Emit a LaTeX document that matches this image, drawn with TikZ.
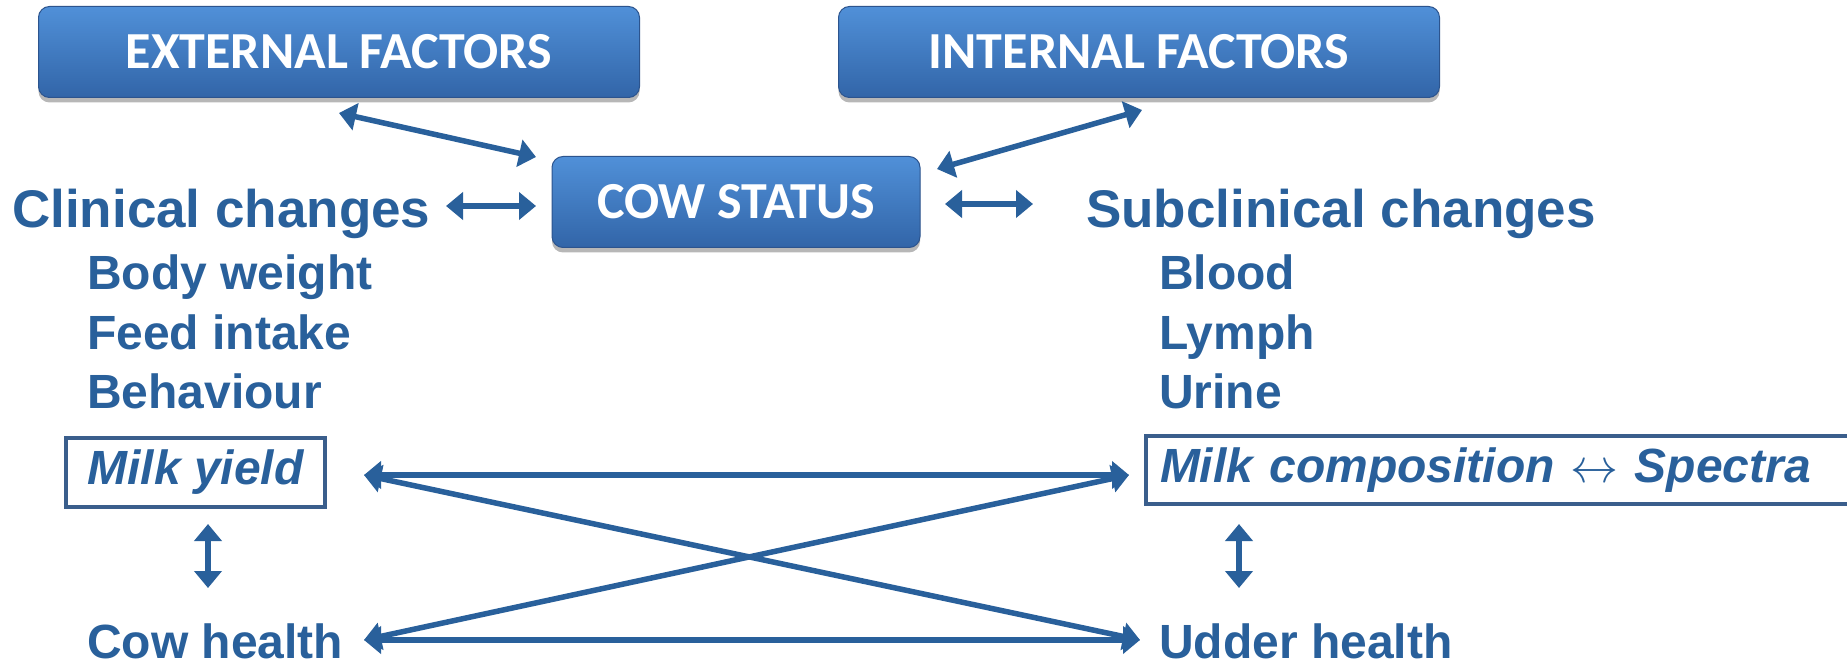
\documentclass[tikz,border=0pt]{standalone}
\usepackage{fontspec}
\setmainfont{Liberation Sans}
\newfontfamily\boxfont{Carlito}
\usetikzlibrary{arrows.meta,shadows}
\definecolor{txtblue}{RGB}{41,96,155}
\definecolor{framecol}{RGB}{58,94,140}
\definecolor{boxtop}{RGB}{80,144,216}
\definecolor{boxbot}{RGB}{50,101,168}
\definecolor{boxedge}{RGB}{44,84,142}
\tikzset{
  topbox/.style={rounded corners=11pt, draw=boxedge, line width=1pt,
    top color=boxtop, bottom color=boxbot, text=white,
    font=\boxfont\bfseries\fontsize{52}{60}\selectfont,
    drop shadow={shadow xshift=0pt, shadow yshift=-5pt, opacity=0.35, fill=black!80}},
  bigtxt/.style={anchor=base west, inner sep=0pt, text=txtblue,
    font=\bfseries\fontsize{53}{60}\selectfont},
  subtxt/.style={anchor=base west, inner sep=0pt, text=txtblue,
    font=\bfseries\fontsize{48}{56}\selectfont},
  framebox/.style={draw=framecol, line width=4pt, text=txtblue,
    font=\bfseries\itshape\fontsize{48}{56}\selectfont},
  arr/.style={draw=txtblue, line width=5.5pt,
    {Triangle[length=17pt,width=27pt]}-{Triangle[length=17pt,width=27pt]}}
}
\begin{document}
\begin{tikzpicture}[x=1pt,y=-1pt]
\clip (0,0) rectangle (1847,668);
\useasboundingbox (0,0) rectangle (1847,668);
\fill[white] (0,0) rectangle (1847,668);

% boxes
\node[topbox, minimum width=601pt, minimum height=91pt] (ext) at (339,52) {EXTERNAL FACTORS};
\node[topbox, minimum width=601pt, minimum height=91pt] (int) at (1139,52) {INTERNAL FACTORS};
\node[topbox, minimum width=368pt, minimum height=91pt] (cow) at (736,202) {COW STATUS};

% text
\node[bigtxt] (clin) at (12,228) {Clinical changes};
\node[bigtxt] (sub) at (1086,228) {Subclinical changes};
\node[subtxt] (bw) at (87,290) {Body weight};
\node[subtxt] (fi) at (87,349) {Feed intake};
\node[subtxt] (beh) at (87,408) {Behaviour};
\node[subtxt] (blood) at (1159,290) {Blood};
\node[subtxt] (lymph) at (1159,349) {Lymph};
\node[subtxt] (urine) at (1159,408) {Urine};

\node[framebox, minimum width=259pt, minimum height=69pt] (my) at (195.5,472.5) {Milk yield};
\node[framebox, anchor=west, minimum height=68pt, inner xsep=14pt,
  text width=760pt, align=left] (mc) at (1144,470)
  {Milk composition \resizebox{48pt}{!}{$\leftrightarrow$} Spectra};

\node[subtxt] (ch) at (87,658) {Cow health};
\node[subtxt] (uh) at (1159,658) {Udder health};

% connector end points
\coordinate (p1) at (339,113);
\coordinate (p2) at (536,157);
\coordinate (p3) at (1142,110);
\coordinate (p4) at (937,169);
\coordinate (p5) at (446,206);
\coordinate (p6) at (536,206);
\coordinate (p7) at (945,204);
\coordinate (p8) at (1033,204);
\coordinate (myR) at (364,475);
\coordinate (mcL) at (1129,475);
\coordinate (chR) at (364,640);
\coordinate (uhL) at (1140,640);
\coordinate (v1a) at (208,524);
\coordinate (v1b) at (208,588);
\coordinate (v2a) at (1239,524);
\coordinate (v2b) at (1239,588);

% connectors
\draw[arr] (p1) -- (p2);
\draw[arr] (p3) -- (p4);
\draw[arr] (p5) -- (p6);
\draw[arr] (p7) -- (p8);
\draw[arr] (myR) -- (mcL);
\draw[arr] (myR) -- (uhL);
\draw[arr] (chR) -- (mcL);
\draw[arr] (chR) -- (uhL);
\draw[arr] (v1a) -- (v1b);
\draw[arr] (v2a) -- (v2b);
\end{tikzpicture}
\end{document}
